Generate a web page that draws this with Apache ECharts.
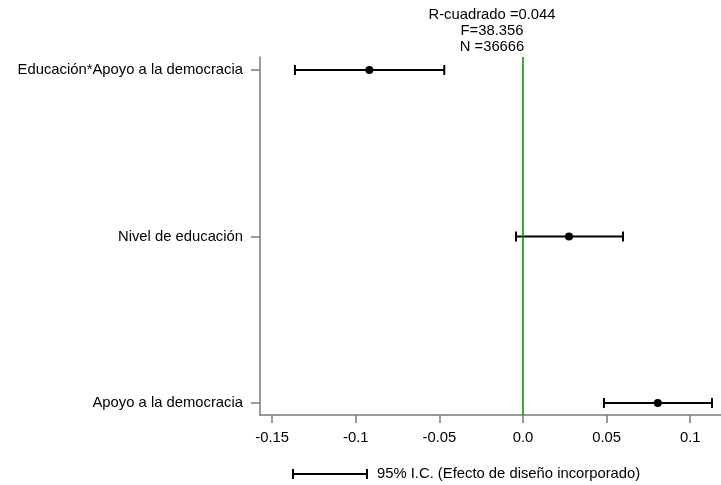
<!DOCTYPE html>
<html><head><meta charset="utf-8">
<script src="https://cdn.jsdelivr.net/npm/echarts@6/dist/echarts.min.js"></script>
<style>html,body{margin:0;padding:0;background:#fff}#c{width:721px;height:485px}</style>
</head><body><div id="c"></div>
<script>
const categories = ['Apoyo a la democracia', 'Nivel de educación', 'Educación*Apoyo a la democracia'];
const estimates = [0.0806, 0.0275, -0.0919];
const lowerCI = [0.0484, -0.0042, -0.1364];
const upperCI = [0.1130, 0.0598, -0.0471];
const xTicks = [-0.15, -0.1, -0.05, 0, 0.05, 0.1];
const statsLines = ['R-cuadrado =0.044', 'F=38.356', 'N =36666'];
const legendText = '95% I.C. (Efecto de diseño incorporado)';

const FONT = '"Liberation Sans", Arial, sans-serif';
const FS = 14.8;
const chart = echarts.init(document.getElementById('c'));
const rows = categories.map((c, i) => i);

chart.setOption({
  animation: false,
  grid: { left: 260, right: 0, top: 57, bottom: 70, containLabel: false },
  xAxis: {
    type: 'value', min: -0.1573, max: 0.1184,
    axisLine: { show: true, onZero: false, lineStyle: { color: '#7a7a7a', width: 1.5 } },
    axisTick: { show: true, length: 8, lineStyle: { color: '#7a7a7a', width: 1.5 }, customValues: xTicks },
    axisLabel: { color: '#000', fontFamily: FONT, fontSize: FS, margin: 15, customValues: xTicks,
      formatter: v => String(+v.toFixed(2)) === '0' ? '0.0' : String(+v.toFixed(2)) },
    splitLine: { show: false }
  },
  yAxis: {
    type: 'value', min: -0.072, max: 2.078,
    axisLine: { show: true, onZero: false, lineStyle: { color: '#7a7a7a', width: 1.5 } },
    axisTick: { show: true, length: 9, lineStyle: { color: '#7a7a7a', width: 1.5 }, customValues: rows },
    axisLabel: { color: '#000', fontFamily: FONT, fontSize: FS, margin: 17, customValues: rows,
      formatter: v => categories[Math.round(v)] },
    splitLine: { show: false }
  },
  series: [
    {
      type: 'custom',
      data: rows.map(i => [i, lowerCI[i], upperCI[i]]),
      encode: { x: [1, 2], y: 0 },
      renderItem: function (params, api) {
        const y = api.value(0);
        const p1 = api.coord([api.value(1), y]);
        const p2 = api.coord([api.value(2), y]);
        const h = 5;
        const st = { stroke: '#000', lineWidth: 2 };
        return {
          type: 'group',
          children: [
            { type: 'line', shape: { x1: p1[0], y1: p1[1], x2: p2[0], y2: p2[1] }, style: st },
            { type: 'line', shape: { x1: p1[0], y1: p1[1] - h, x2: p1[0], y2: p1[1] + h }, style: st },
            { type: 'line', shape: { x1: p2[0], y1: p2[1] - h, x2: p2[0], y2: p2[1] + h }, style: st }
          ]
        };
      },
      z: 3
    },
    {
      type: 'scatter',
      data: rows.map(i => [estimates[i], i]),
      symbol: 'circle', symbolSize: 8,
      itemStyle: { color: '#000', opacity: 1 },
      z: 4,
      markLine: {
        silent: true, symbol: 'none', label: { show: false },
        lineStyle: { color: '#008a00', width: 1.5, type: 'solid', opacity: 1 },
        data: [{ xAxis: 0 }]
      }
    }
  ],
  graphic: [
    {
      type: 'text', x: 492, y: 7,
      style: { text: statsLines.join('\n'), textAlign: 'center', textVerticalAlign: 'top',
        font: FS + 'px ' + FONT, lineHeight: 16, fill: '#000' }
    },
    { type: 'line', shape: { x1: 293, y1: 474, x2: 367, y2: 474 }, style: { stroke: '#000', lineWidth: 2 } },
    { type: 'line', shape: { x1: 293, y1: 469, x2: 293, y2: 479 }, style: { stroke: '#000', lineWidth: 2 } },
    { type: 'line', shape: { x1: 367, y1: 469, x2: 367, y2: 479 }, style: { stroke: '#000', lineWidth: 2 } },
    {
      type: 'text', x: 377, y: 474,
      style: { text: legendText, textAlign: 'left', textVerticalAlign: 'middle',
        font: FS + 'px ' + FONT, fill: '#000' }
    }
  ]
});
</script>
</body></html>
